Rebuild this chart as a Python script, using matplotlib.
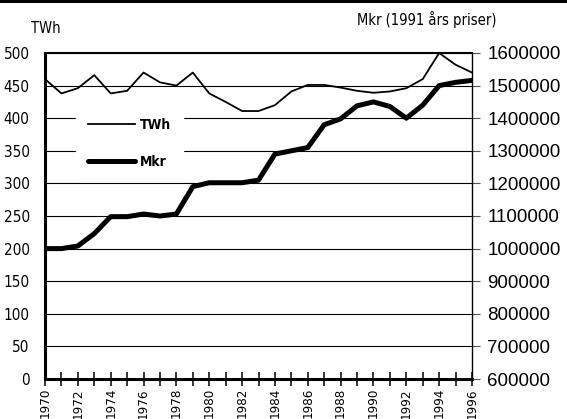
import matplotlib
matplotlib.use("Agg")
import matplotlib.pyplot as plt
from matplotlib.patches import Rectangle
from matplotlib import font_manager as fm

years = list(range(1970, 1997))
twh = [460, 438, 446, 466, 438, 442, 470, 455, 450, 470, 438, 425, 411, 411,
       420, 441, 451, 451, 447, 442, 439, 441, 446, 460, 500, 482, 470]
mkr = [1000000, 1000000, 1008000, 1046000, 1098000, 1098000, 1106000, 1100000,
       1106000, 1190000, 1202000, 1202000, 1202000, 1210000, 1290000, 1300000,
       1310000, 1380000, 1398000, 1438000, 1450000, 1436000, 1400000, 1440000,
       1500000, 1510000, 1516000]
left_ticks = list(range(0, 501, 50))
right_ticks = list(range(600000, 1600001, 100000))


def find_font(keys_pref, bold=False):
    files = [f.fname for f in fm.fontManager.ttflist]
    for key in keys_pref:
        for fn in files:
            base = fn.split("/")[-1].lower()
            if key in base:
                isbold = "bold" in base
                if isbold == bold and "oblique" not in base and "italic" not in base:
                    return fn
    return None


nf = find_font(["liberationsansnarrow-regular", "dejavusanscondensed.ttf",
                "dejavusanscondensed"])
nbf = find_font(["liberationsansnarrow-bold.", "dejavusanscondensed-bold"], bold=True)


def narrow(size, bold=False):
    fn = nbf if bold else nf
    if fn:
        return fm.FontProperties(fname=fn, size=size)
    return fm.FontProperties(family="DejaVu Sans", size=size,
                             weight="bold" if bold else "normal")


regular = "Liberation Sans"

fig = plt.figure(figsize=(5.67, 4.19), dpi=100)
fig.patches.append(Rectangle((0, 415.5 / 419), 1, 1, transform=fig.transFigure,
                             facecolor="black", edgecolor="none", zorder=10))

L, R = 45 / 567, 472 / 567
B, T = 40 / 419, 366 / 419
ax = fig.add_axes([L, B, R - L, T - B])
ax2 = ax.twinx()

ax.set_xlim(1970, 1996)
ax.set_ylim(0, 500)
ax2.set_ylim(600000, 1600000)

ax.set_yticks(left_ticks)
ax.set_yticklabels([str(v) for v in left_ticks], fontproperties=narrow(11))
ax.yaxis.grid(True, color="black", linewidth=0.8)
ax.set_axisbelow(True)
ax.tick_params(axis="y", length=0, pad=11)

ax.set_xticks(years)
ax.set_xticklabels([str(y) if (y % 2 == 0) else "" for y in years], rotation=90,
                   fontproperties=narrow(9.5))
ax.tick_params(axis="x", direction="inout", length=10, width=1.1, pad=1.5, colors="black")

ax2.set_yticks(right_ticks)
ax2.set_yticklabels([str(v) for v in right_ticks], fontfamily=regular, fontsize=13.5)
ax2.tick_params(axis="y", direction="out", length=6, width=0.8, color="#555555", pad=5)

for sp in ["left", "bottom"]:
    ax.spines[sp].set_linewidth(2.2)
ax.spines["top"].set_linewidth(1.5)
ax.spines["right"].set_visible(False)
ax2.spines["left"].set_visible(False)
ax2.spines["bottom"].set_visible(False)
ax2.spines["top"].set_visible(False)
ax2.spines["right"].set_linewidth(1.0)

l1, = ax.plot(years, twh, color="black", linewidth=1.3, label="TWh")
l2, = ax2.plot(years, mkr, color="black", linewidth=3.6, label="Mkr",
               solid_capstyle="round")

leg = ax2.legend(handles=[l1, l2], loc="upper left", bbox_to_anchor=(0.072, 0.838),
                 frameon=True, facecolor="white", edgecolor="white", framealpha=1,
                 fancybox=False, handlelength=3.4, handletextpad=0.3,
                 borderpad=0.9, labelspacing=1.6, borderaxespad=0,
                 prop=narrow(10, bold=True))

fig.text(31 / 567, 1 - 33 / 419, "TWh", fontproperties=narrow(10.5),
         ha="left", va="baseline")
fig.text(357 / 567, 1 - 25 / 419, "Mkr (1991 års priser)", fontproperties=narrow(10.5),
         ha="left", va="baseline")

fig.savefig("out.png", dpi=100)
